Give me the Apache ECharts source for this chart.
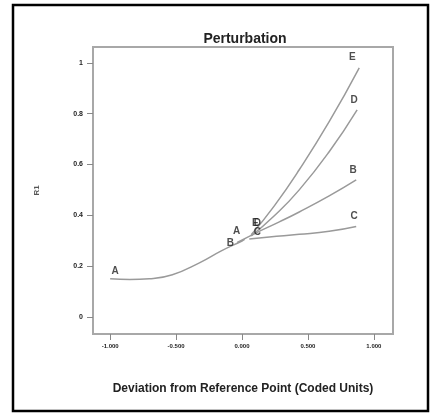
<!DOCTYPE html>
<html>
<head>
<meta charset="utf-8">
<script src="https://cdn.jsdelivr.net/npm/echarts@6/dist/echarts.min.js"></script>
<style>
html,body{margin:0;padding:0;background:#fff;}
#c{width:430px;height:417px;}
</style>
</head>
<body>
<div id="c"></div>
<script>
// ---- data ----
const titleText = 'Perturbation';
const xAxisTitle = 'Deviation from Reference Point (Coded Units)';
const yAxisTitle = 'R1';
const xTicks = [-1, -0.5, 0, 0.5, 1];
const xTickLabels = ['-1.000', '-0.500', '0.000', '0.500', '1.000'];
const yTicks = [0, 0.2, 0.4, 0.6, 0.8, 1];
const yTickLabels = ['0', '0.2', '0.4', '0.6', '0.8', '1'];
const factorNames = ['A', 'B', 'C', 'D', 'E'];
const curveA = [[-1.0, 0.150], [-0.85, 0.147], [-0.702, 0.150], [-0.528, 0.166], [-0.323, 0.213], [-0.157, 0.260], [0.0, 0.299], [0.02, 0.305]];
const curveB = [[-0.036, 0.293], [0.108, 0.331], [0.283, 0.374], [0.434, 0.413], [0.661, 0.476], [0.866, 0.539]];
const curveC = [[0.055, 0.307], [0.207, 0.315], [0.434, 0.325], [0.661, 0.337], [0.866, 0.356]];
const curveD = [[0.070, 0.319], [0.245, 0.398], [0.434, 0.500], [0.661, 0.650], [0.873, 0.815]];
const curveE = [[0.070, 0.323], [0.245, 0.437], [0.434, 0.579], [0.661, 0.768], [0.889, 0.980]];
const curves = [curveA, curveB, curveC, curveD, curveE];

// label offsets (style only)
const startOffsets = [[5, -8], [-7, 1], [8, -7], [6, -13], [4, -12]];
const endOffsets = [[-8, -8], [-3, -10], [-2, -10], [-3, -10], [-7, -11]];

const labelPoints = [];
curves.forEach((c, i) => {
  const s = c[0], e = c[c.length - 1];
  labelPoints.push({ value: s, name: factorNames[i], label: { offset: startOffsets[i] } });
  labelPoints.push({ value: e, name: factorNames[i], label: { offset: endOffsets[i] } });
});

const chart = echarts.init(document.getElementById('c'), null, { renderer: 'canvas' });
const lineSeries = curves.map((c, i) => ({
  type: 'line',
  name: factorNames[i],
  data: c,
  smooth: true,
  showSymbol: false,
  silent: true,
  lineStyle: { color: '#9a9a9a', width: 1.5 },
  z: 2
}));

chart.setOption({
  animation: false,
  backgroundColor: '#fff',
  title: {
    text: titleText,
    left: 240, top: 27, textAlign: 'center',
    textStyle: { fontFamily: 'Liberation Sans, Arial', fontSize: 14, fontWeight: 'bold', color: '#222' }
  },
  grid: {
    left: 93, right: 37, top: 47, bottom: 83,
    show: true, borderColor: '#a8a8a8', borderWidth: 2, backgroundColor: '#fff'
  },
  xAxis: {
    type: 'value',
    min: -1.13, max: 1.145,
    name: xAxisTitle,
    nameLocation: 'middle',
    nameGap: 49,
    nameTextStyle: { fontFamily: 'Liberation Sans, Arial', fontSize: 12, fontWeight: 'bold', color: '#222' },
    axisLine: { show: false, onZero: false },
    splitLine: { show: false },
    axisTick: { show: true, inside: false, length: 6, customValues: xTicks, lineStyle: { color: '#888', width: 1 } },
    axisLabel: {
      customValues: xTicks,
      margin: 9,
      fontFamily: 'Liberation Sans, Arial', fontSize: 6, fontWeight: 'bold', color: '#222',
      formatter: v => xTickLabels[xTicks.findIndex(t => Math.abs(t - v) < 1e-9)]
    }
  },
  yAxis: {
    type: 'value',
    min: -0.067, max: 1.062,
    name: yAxisTitle,
    nameLocation: 'middle',
    nameGap: 52,
    nameRotate: 90,
    nameTextStyle: { fontFamily: 'Liberation Sans, Arial', fontSize: 8, fontWeight: 'bold', color: '#555' },
    axisLine: { show: false, onZero: false },
    splitLine: { show: false },
    axisTick: { show: true, inside: false, length: 6, customValues: yTicks, lineStyle: { color: '#888', width: 1 } },
    axisLabel: {
      customValues: yTicks,
      margin: 10,
      fontFamily: 'Liberation Sans, Arial', fontSize: 7, fontWeight: 'bold', color: '#222',
      formatter: v => yTickLabels[yTicks.findIndex(t => Math.abs(t - v) < 1e-9)]
    }
  },
  series: lineSeries.concat([{
    type: 'scatter',
    data: labelPoints,
    symbolSize: 0,
    silent: true,
    z: 3,
    label: {
      show: true,
      position: 'inside',
      formatter: p => p.name,
      fontFamily: 'Liberation Sans, Arial', fontSize: 10, fontWeight: 'bold', color: '#222'
    }
  }]),
  graphic: [{
    type: 'rect',
    shape: { x: 13, y: 5, width: 415, height: 406 },
    style: { fill: 'none', stroke: '#000', lineWidth: 2.5 },
    silent: true
  }]
});
</script>
</body>
</html>
